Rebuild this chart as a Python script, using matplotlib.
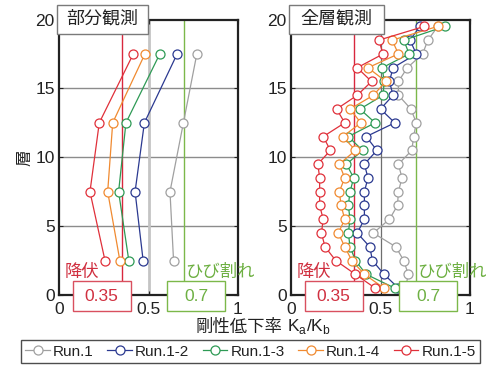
import matplotlib
matplotlib.use("Agg")
import matplotlib.pyplot as plt
from matplotlib.patches import Rectangle
from matplotlib.lines import Line2D

plt.rcParams['font.family'] = ['Liberation Sans', 'Noto Sans CJK JP']
plt.rcParams['mathtext.fontset'] = 'custom'
plt.rcParams['mathtext.rm'] = 'Liberation Sans'

# ---------------- data ----------------
run_names = ["Run.1", "Run.1-2", "Run.1-3", "Run.1-4", "Run.1-5"]
run_colors = ["#a0a0a0", "#2b3990", "#2e9a55", "#f08a30", "#e0303a"]

# 部分観測 (partial observation)
partial_floors = [2.5, 7.5, 12.5, 17.5]
partial_run1  = [0.64, 0.62, 0.695, 0.77]
partial_run12 = [0.47, 0.425, 0.477, 0.66]
partial_run13 = [0.39, 0.333, 0.374, 0.563]
partial_run14 = [0.34, 0.272, 0.30, 0.48]
partial_run15 = [0.257, 0.173, 0.225, 0.415]

# 全層観測 (all-floor observation)
full_floors = [0.5, 1.5, 2.5, 3.5, 4.5, 5.5, 6.5, 7.5, 8.5, 9.5,
               10.5, 11.5, 12.5, 13.5, 14.5, 15.5, 16.5, 17.5, 18.5, 19.5]
full_run1  = [0.64, 0.655, 0.63, 0.585, 0.46, 0.55, 0.595, 0.60, 0.62, 0.60,
              0.675, 0.685, 0.70, 0.67, 0.60, 0.60, 0.65, 0.735, 0.765, 0.82]
full_run12 = [0.60, 0.52, 0.455, 0.44, 0.37, 0.41, 0.41, 0.41, 0.43, 0.41,
              0.48, 0.42, 0.58, 0.50, 0.57, 0.55, 0.57, 0.70, 0.665, 0.72]
full_run13 = [0.58, 0.42, 0.36, 0.33, 0.32, 0.33, 0.32, 0.33, 0.35, 0.31,
              0.40, 0.32, 0.47, 0.385, 0.515, 0.52, 0.51, 0.66, 0.63, 0.86]
full_run14 = [0.52, 0.41, 0.34, 0.30, 0.265, 0.30, 0.28, 0.27, 0.30, 0.27,
              0.36, 0.29, 0.39, 0.33, 0.46, 0.53, 0.43, 0.60, 0.565, 0.82]
full_run15 = [0.47, 0.36, 0.25, 0.19, 0.17, 0.18, 0.16, 0.16, 0.16, 0.15,
              0.22, 0.18, 0.30, 0.255, 0.37, 0.45, 0.37, 0.515, 0.49, 0.745]

yield_value = 0.35
crack_value = 0.7
panel_titles = ["部分観測", "全層観測"]
x_ticks = [0, 0.5, 1]
x_ticklabels = ["0", "0.5", "1"]
y_ticks = [0, 5, 10, 15, 20]

partial_series = [partial_run1, partial_run12, partial_run13, partial_run14, partial_run15]
full_series = [full_run1, full_run12, full_run13, full_run14, full_run15]

# ---------------- figure ----------------
W, H = 493, 367
fig = plt.figure(figsize=(W / 100, H / 100), dpi=100)

def px_axes(x0, x1, y0, y1):
    return fig.add_axes([x0 / W, 1 - y1 / H, (x1 - x0) / W, (y1 - y0) / H])

ax1 = px_axes(59, 238, 19.5, 295)
ax2 = px_axes(291, 470, 19.5, 295)

red_line = "#d8283e"
green_line = "#7cb84a"
red_text = "#d03040"
green_text = "#6eb043"

for k, (ax, floors, series, title) in enumerate(
        [(ax1, partial_floors, partial_series, panel_titles[0]),
         (ax2, full_floors, full_series, panel_titles[1])]):
    ax.set_xlim(0, 1)
    ax.set_ylim(0, 20)
    ax.set_xticks(x_ticks)
    ax.set_xticklabels(x_ticklabels)
    ax.set_yticks(y_ticks)
    ax.tick_params(direction='in', length=3, width=0.8, top=True, right=True,
                   labelsize=12.5, pad=3, colors='#222222')
    ax.tick_params(axis='x', pad=5)
    for s in ax.spines.values():
        s.set_linewidth(1.6)
        s.set_color('#222222')
    for yv in [5, 10, 15]:
        ax.axhline(yv, color='#8c8c8c', lw=1.0, zorder=1)
    if k == 0:
        ax.axvline(0.5, color='#c4c4c4', lw=2.0, zorder=1)
    else:
        ax.axvline(0.5, color='#6e6e6e', lw=0.9, zorder=1)
    ax.axvline(yield_value, color=red_line, lw=1.0, zorder=2)
    ax.axvline(crack_value, color=green_line, lw=1.0, zorder=2)

    for vals, col in zip(series, run_colors):
        ax.plot(vals, floors, color=col, lw=0.9, marker='o', ms=6.5,
                mfc='white', mec=col, mew=0.9, zorder=3)

    # title box
    ax.add_patch(Rectangle((-0.011, 0.947), 0.508 if k == 0 else 0.532, 0.106,
                           transform=ax.transAxes, facecolor='white',
                           edgecolor='#7a7a7a', lw=1.0, clip_on=False, zorder=10))
    ax.text(0.243 if k == 0 else 0.255, 1.0, title, transform=ax.transAxes,
            ha='center', va='center', fontsize=13, color='#222222', zorder=11)

    # yield / crack labels
    ax.text(0.033, 0.084, "降伏", transform=ax.transAxes, ha='left', va='center',
            fontsize=12.5, color=red_text, zorder=11, clip_on=False)
    ax.text(0.703, 0.084, "ひび割れ", transform=ax.transAxes, ha='left', va='center',
            fontsize=12.5, color=green_text, zorder=11, clip_on=False)
    ax.add_patch(Rectangle((0.078, -0.058), 0.322, 0.109, transform=ax.transAxes,
                           facecolor='white', edgecolor='#d9505f', lw=1.0,
                           clip_on=False, zorder=10))
    ax.text(0.239, -0.004, f"{yield_value:.2f}", transform=ax.transAxes,
            ha='center', va='center', fontsize=12.5, color=red_text, zorder=11)
    ax.add_patch(Rectangle((0.606, -0.058), 0.321, 0.109, transform=ax.transAxes,
                           facecolor='white', edgecolor=green_line, lw=1.0,
                           clip_on=False, zorder=10))
    ax.text(0.766, -0.004, f"{crack_value:.1f}", transform=ax.transAxes,
            ha='center', va='center', fontsize=12.5, color=green_text, zorder=11)

fig.text(25 / W, 1 - 158 / H, "層", rotation=90, ha='center', va='center',
         fontsize=12, color='#222222')
# x label: Japanese part + Ka/Kb part
fig.text(282 / W, 1 - 327 / H, "剛性低下率", ha='right', va='center',
         fontsize=12.5, color='#222222')
fig.text(287 / W, 1 - 327 / H, "K$_\\mathrm{a}$/K$_\\mathrm{b}$", ha='left', va='center',
         fontsize=12.5, color='#222222')

handles = [Line2D([], [], color=c, lw=0.9, marker='o', ms=6.5, mfc='white',
                  mec=c, mew=0.9) for c in run_colors]
leg = fig.legend(handles, run_names, loc='center', ncol=5,
                 bbox_to_anchor=(250.5 / W, 1 - 351.5 / H),
                 fontsize=11, frameon=True, fancybox=False, edgecolor='#222222',
                 handlelength=1.6, handletextpad=0.2, columnspacing=0.9,
                 borderpad=0.3, borderaxespad=0)
leg.get_frame().set_linewidth(1.0)
for t in leg.get_texts():
    t.set_color('#222222')

fig.savefig("out.png", dpi=100)
